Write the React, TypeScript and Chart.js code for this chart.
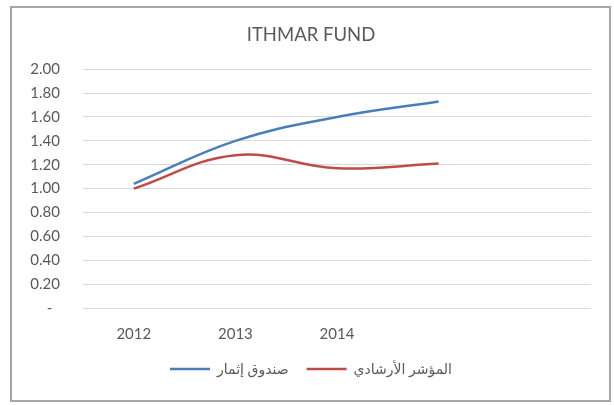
import React, { useEffect, useRef } from 'react';
import { Chart, registerables } from 'chart.js';

Chart.register(...registerables);

const categories = ['2012', '2013', '2014', '', ''];
const fundValues = [1.04, 1.4, 1.6, 1.73, null];
const benchmarkValues = [1.0, 1.28, 1.17, 1.21, null];
const seriesNames = ['صندوق إثمار', 'المؤشر الأرشادي'];
const chartTitle = 'ITHMAR FUND';

const FONT = "Lato, 'DejaVu Sans', sans-serif";
const TEXT = '#595959';

const borderPlugin = {
  id: 'outerBorder',
  beforeDraw(chart: any) {
    const ctx = chart.ctx;
    ctx.save();
    ctx.fillStyle = '#ffffff';
    ctx.fillRect(0, 0, chart.width, chart.height);
    ctx.strokeStyle = '#a6a6a6';
    ctx.lineWidth = 2;
    ctx.strokeRect(11, 7, 599, 394);
    ctx.restore();
  },
};

export default function App() {
  const ref = useRef<HTMLCanvasElement>(null);

  useEffect(() => {
    if (!ref.current) return;
    const chart = new Chart(ref.current, {
      type: 'line',
      data: {
        labels: categories,
        datasets: [
          {
            label: seriesNames[0],
            data: fundValues,
            borderColor: '#4A7EBB',
            backgroundColor: '#4A7EBB',
            borderWidth: 2.5,
            pointRadius: 0,
            tension: 0.4,
          },
          {
            label: seriesNames[1],
            data: benchmarkValues,
            borderColor: '#BE4B48',
            backgroundColor: '#BE4B48',
            borderWidth: 2.5,
            pointRadius: 0,
            tension: 0.4,
          },
        ],
      },
      options: {
        responsive: false,
        animation: false,
        layout: { padding: { left: 8, right: 0, top: 24, bottom: 19 } },
        plugins: {
          title: {
            display: true,
            text: chartTitle,
            color: TEXT,
            font: { family: FONT, size: 18.5, weight: 'normal' },
            padding: { top: 0, bottom: 23 },
          },
          legend: {
            position: 'bottom',
            labels: {
              usePointStyle: true,
              pointStyle: 'line',
              pointStyleWidth: 40,
              padding: 18,
              color: TEXT,
              font: { family: FONT, size: 14 },
            },
          },
          tooltip: { enabled: false },
        },
        scales: {
          x: {
            offset: true,
            grid: { display: false, drawTicks: false },
            border: { display: false },
            ticks: {
              color: TEXT,
              font: { family: FONT, size: 15 },
              padding: 17,
              maxRotation: 0,
              autoSkip: false,
            },
            afterFit(scale: any) {
              scale.height = 36;
            },
          },
          y: {
            min: 0,
            max: 2,
            grid: { color: '#D9D9D9', lineWidth: 1, drawTicks: false },
            border: { display: false },
            ticks: {
              stepSize: 0.2,
              color: TEXT,
              font: { family: FONT, size: 15 },
              padding: 23,
              callback: (v: any) => (Number(v) === 0 ? '-  ' : Number(v).toFixed(2)),
            },
            afterFit(scale: any) {
              scale.width = 75;
            },
          },
          yRight: {
            position: 'right',
            min: 0,
            max: 2,
            grid: { display: false, drawTicks: false },
            border: { display: false },
            ticks: { display: false },
            afterFit(scale: any) {
              scale.width = 23;
            },
          },
        },
      },
      plugins: [borderPlugin],
    });
    return () => chart.destroy();
  }, []);

  return (
    <div style={{ position: 'fixed', left: 0, top: 0, width: 614, height: 405 }}>
      <canvas ref={ref} width={614} height={405} style={{ display: 'block' }} />
    </div>
  );
}
